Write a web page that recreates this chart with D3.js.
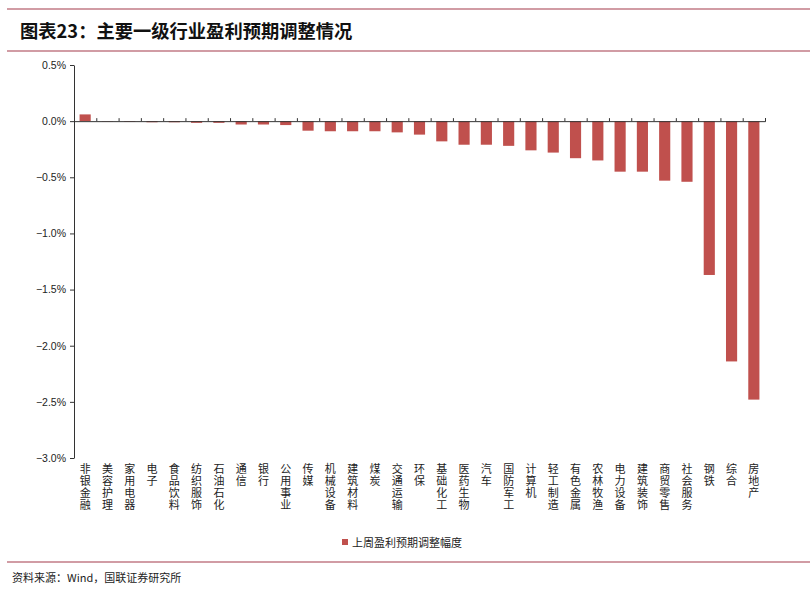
<!DOCTYPE html>
<html><head><meta charset="utf-8">
<script src="https://cdn.jsdelivr.net/npm/d3@7"></script>
<style>body{margin:0;background:#fff}svg{display:block}</style>
</head><body>
<script>
const categories = ["非银金融","美容护理","家用电器","电子","食品饮料","纺织服饰","石油石化","通信","银行","公用事业","传媒","机械设备","建筑材料","煤炭","交通运输","环保","基础化工","医药生物","汽车","国防军工","计算机","轻工制造","有色金属","农林牧渔","电力设备","建筑装饰","商贸零售","社会服务","钢铁","综合","房地产"];
const values = [0.06,-0.003,-0.005,-0.01,-0.01,-0.015,-0.015,-0.03,-0.03,-0.035,-0.085,-0.09,-0.09,-0.09,-0.10,-0.12,-0.18,-0.21,-0.21,-0.22,-0.26,-0.28,-0.33,-0.35,-0.45,-0.45,-0.53,-0.54,-1.37,-2.14,-2.48];
const yTicks = [0.5,0.0,-0.5,-1.0,-1.5,-2.0,-2.5,-3.0];
const seriesName = "上周盈利预期调整幅度";
const title = "图表23：主要一级行业盈利预期调整情况";
const source = "资料来源：Wind，国联证券研究所";

const W=810,H=595;
const svg=d3.select("body").append("svg").attr("width",W).attr("height",H);
const lineColor="#a33a4a", barColor="#c0504d";

svg.append("line").attr("x1",7).attr("x2",W).attr("y1",9).attr("y2",9).attr("stroke",lineColor).attr("stroke-width",1.2);
svg.append("line").attr("x1",7).attr("x2",W).attr("y1",51).attr("y2",51).attr("stroke",lineColor).attr("stroke-width",1.2);
svg.append("text").attr("x",20).attr("y",38).text(title)
  .attr("font-family","'Noto Sans CJK SC'").attr("font-weight","bold").attr("font-size",18.3).attr("fill","#111");

const x=d3.scaleBand().domain(categories).range([74,765]).paddingInner(0.5).paddingOuter(0.25);
const y=d3.scaleLinear().domain([-3,0.5]).range([458,65]);

// bars
svg.append("g").selectAll("rect").data(values).join("rect")
  .attr("x",(d,i)=>x(categories[i]))
  .attr("width",x.bandwidth())
  .attr("y",d=>y(Math.max(0,d)))
  .attr("height",d=>Math.abs(y(d)-y(0)))
  .attr("fill",barColor);

// y axis
const ya=svg.append("g").attr("transform","translate(74,0)")
  .call(d3.axisLeft(y).tickValues(yTicks).tickFormat(d=>d3.format(".1f")(d)+"%").tickSize(4).tickSizeOuter(0));
ya.select(".domain").attr("stroke","#333");
ya.selectAll(".tick line").attr("stroke","#333");
ya.selectAll("text").attr("font-family","'Liberation Sans',Arial").attr("font-size",10.5).attr("fill","#222").attr("x",-8);

// x axis at zero
const xa=svg.append("g").attr("transform",`translate(0,${y(0)})`)
  .call(d3.axisBottom(d3.scaleLinear().domain([0,categories.length]).range([74,765]))
    .tickValues(d3.range(0,categories.length+1)).tickSize(-3).tickFormat(""));
xa.select(".domain").attr("stroke","#333");
xa.selectAll(".tick line").attr("stroke","#333");

// x labels vertical (single text each, vertical writing mode)
svg.append("g").selectAll("text").data(categories).join("text")
  .attr("x",d=>x(d)+x.bandwidth()/2)
  .attr("y",463)
  .attr("style","writing-mode:vertical-rl;text-orientation:upright;letter-spacing:1.2px")
  .attr("font-family","'Noto Sans CJK SC'").attr("font-size",11).attr("fill","#222")
  .text(d=>d);

// legend
svg.append("rect").attr("x",342).attr("y",539).attr("width",6).attr("height",6).attr("fill",barColor);
svg.append("text").attr("x",352).attr("y",546.5).text(seriesName)
  .attr("font-family","'Noto Sans CJK SC'").attr("font-size",11).attr("fill","#222");

// footer
svg.append("line").attr("x1",7).attr("x2",W).attr("y1",562).attr("y2",562).attr("stroke",lineColor).attr("stroke-width",1.2);
svg.append("text").attr("x",12).attr("y",582).text(source)
  .attr("font-family","'Noto Sans CJK SC'").attr("font-size",11).attr("fill","#222");
</script>
</body></html>
